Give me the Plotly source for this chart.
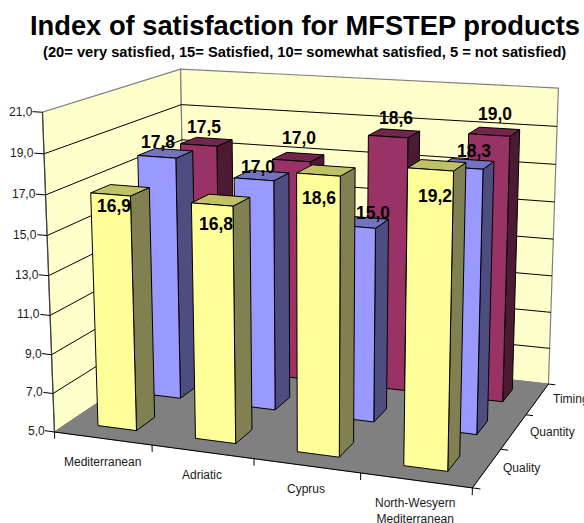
import numpy as np
import plotly.graph_objects as go

# ---- data ----
categories = ["Mediterranean", "Adriatic", "Cyprus", "North-Wesyern<br>Mediterranean"]
series_names = ["Quality", "Quantity", "Timing"]
quality = [16.9, 16.8, 18.6, 19.2]
quantity = [17.8, 17.0, 15.0, 18.3]
timing = [17.5, 17.0, 18.6, 19.0]
value_ticks = [5, 7, 9, 11, 13, 15, 17, 19, 21]

# ---- styles ----
W, H = 584, 523
FONT = "Liberation Sans"
series_values = [quality, quantity, timing]
face_colors = [("#FFFF99", "#C0C066", "#808050"),
               ("#9999FF", "#7373C0", "#4D4D80"),
               ("#993366", "#73264D", "#4D1A33")]
label_offsets = [[(-6, 16), (-5, 24), (-7, 28), (-2, 31)],
                 [(-7, -11), (-4, -8), (11, -9), (7, -13)],
                 [(-2, -15), (1, -19), (2, -15), (1, -18)]]
BAR_LO, BAR_HI = 0.3, 0.7
ZMIN, ZMAX = 5, 21

# ---- oblique view of the 3-D box (category, series, value) -> page position ----
view_refs = [
    ((0, 0, 5), (55, 432)), ((1, 0, 5), (152, 446)), ((2, 0, 5), (254, 460)), ((3, 0, 5), (360, 473)),
    ((4, 0, 5), (472, 488)), ((4, 1, 5), (500, 449)), ((4, 2, 5), (527, 414)), ((4, 3, 5), (549, 384)),
    ((0, 0, 21), (42, 112)), ((0, 0, 19), (44, 154)), ((0, 0, 17), (46, 195)), ((0, 0, 15), (47, 235)),
    ((0, 0, 13), (49, 275)), ((0, 0, 11), (50, 315)), ((0, 0, 9), (52, 354)), ((0, 0, 7), (53, 394)),
    ((0, 3, 21), (181, 69)), ((0, 3, 19), (181, 105)), ((0, 3, 17), (181, 140)),
    ((4, 3, 21), (559, 89)), ((4, 3, 19), (558, 126)), ((4, 3, 17), (556, 165)),
    ((4, 3, 15), (554, 202)), ((4, 3, 13), (552, 238)),
]
rows = []
for (a, b, c), (u, v) in view_refs:
    rows.append([a, b, c, 1, 0, 0, 0, 0, -u * a, -u * b, -u * c, -u])
    rows.append([0, 0, 0, 0, a, b, c, 1, -v * a, -v * b, -v * c, -v])
P = np.linalg.svd(np.array(rows, float))[2][-1].reshape(3, 4)


def proj(c, s, v):
    q = P @ np.array([c, s, v, 1.0])
    return q[0] / q[2], q[1] / q[2]


fig = go.Figure()


def poly(points, fill=None, line="black", width=1.0):
    xy = [proj(*p) for p in points]
    xs = [a for a, _ in xy]
    ys = [b for _, b in xy]
    if fill:
        xs.append(xs[0])
        ys.append(ys[0])
    fig.add_trace(go.Scatter(
        x=xs, y=ys, mode="lines", fill="toself" if fill else None, fillcolor=fill,
        line=dict(color=line, width=width), hoverinfo="skip", showlegend=False))


# walls and floor
nc, ns = len(categories), len(series_names)
poly([(0, 0, ZMIN), (0, ns, ZMIN), (0, ns, ZMAX), (0, 0, ZMAX)], "#FFFFCC", "#808080", 1.2)
poly([(0, ns, ZMIN), (nc, ns, ZMIN), (nc, ns, ZMAX), (0, ns, ZMAX)], "#FFFFCC", "#808080", 1.2)
poly([(0, 0, ZMIN), (nc, 0, ZMIN), (nc, ns, ZMIN), (0, ns, ZMIN)], "#808080", "#808080", 1)
for z in value_ticks[1:-1]:
    poly([(0, 0, z), (0, ns, z), (nc, ns, z)], None, "black", 1)
poly([(0, 0, ZMIN), (nc, 0, ZMIN), (nc, ns, ZMIN)], None, "black", 1)
poly([(0, 0, ZMIN), (0, 0, ZMAX)], None, "#404040", 1.2)

# ticks
for z in value_ticks:
    poly([(-0.1, 0, z), (0, 0, z)], None, "black", 1)
for c in range(nc + 1):
    poly([(c, 0, ZMIN), (c, 0, ZMIN - 0.35)], None, "black", 1)
for s in range(ns + 1):
    poly([(nc, s, ZMIN), (nc + 0.07, s, ZMIN)], None, "black", 1)

# bars, back row first
for s in reversed(range(ns)):
    front, top, side = face_colors[s]
    for c in range(nc):
        v = series_values[s][c]
        x0, x1, y0, y1 = c + BAR_LO, c + BAR_HI, s + BAR_LO, s + BAR_HI
        poly([(x1, y0, ZMIN), (x1, y1, ZMIN), (x1, y1, v), (x1, y0, v)], side)
        poly([(x0, y0, v), (x1, y0, v), (x1, y1, v), (x0, y1, v)], top)
        poly([(x0, y0, ZMIN), (x1, y0, ZMIN), (x1, y0, v), (x0, y0, v)], front)

anns = []


def text(x, y, s, size, bold=False, xanchor="center", color="#1a1a1a"):
    anns.append(dict(x=x, y=y, xref="x", yref="y", text=f"<b>{s}</b>" if bold else s, showarrow=False,
                     font=dict(family=FONT, size=size, color=color), xanchor=xanchor, yanchor="middle",
                     borderpad=0, borderwidth=0))


for z in value_ticks:
    px, py = proj(-0.1, 0, z)
    text(px, py, f"{z:.1f}".replace(".", ","), 12, xanchor="right")
for c, name in enumerate(categories):
    px, py = proj(c + 0.5, 0, ZMIN)
    text(px - 0.5, py + (31 if "<br>" in name else 23.5), name, 12)
for s, name in enumerate(series_names):
    px, py = proj(nc, s + 0.5, ZMIN)
    text(px + 16, py, name, 12, xanchor="left")
for s in range(ns):
    for c in range(nc):
        dx, dy = label_offsets[s][c]
        v = series_values[s][c]
        px, py = proj(c + 0.5, s + 0.5, v)
        text(px + dx, py + dy, f"{v:.1f}".replace(".", ","), 17.5, bold=True, color="black")

text(304.5, 25, "Index of satisfaction for MFSTEP products", 27.3, bold=True, color="black")
text(304.5, 52, "(20= very satisfied, 15= Satisfied, 10= somewhat satisfied, 5 = not satisfied)", 14.7, bold=True, color="black")

fig.update_layout(
    width=W, height=H, margin=dict(l=0, r=0, t=0, b=0), paper_bgcolor="white", plot_bgcolor="white",
    xaxis=dict(range=[0, W], visible=False, fixedrange=True),
    yaxis=dict(range=[H, 0], visible=False, fixedrange=True),
    annotations=anns, showlegend=False)
fig.write_html("out.html", config=dict(displayModeBar=False),
               post_script="document.body.style.margin='0';document.documentElement.style.overflow='hidden';")
